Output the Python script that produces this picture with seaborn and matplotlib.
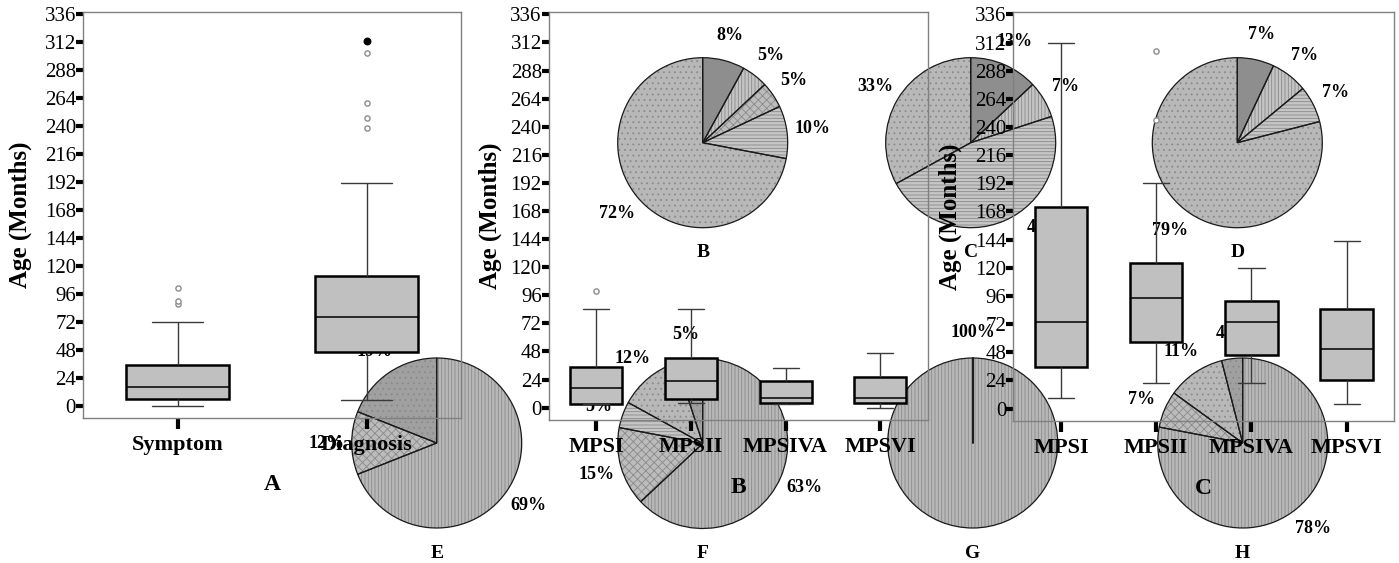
import numpy as np
import pandas as pd
import matplotlib
matplotlib.use("Agg")
import matplotlib.pyplot as plt
import seaborn as sns

# ---------------- data ----------------
# Panel A: age at symptom onset vs. age at diagnosis (five-number summaries)
a_groups = ["Symptom", "Diagnosis"]
a_min = [0, 5]
a_q1 = [6, 46]
a_med = [16, 76]
a_q3 = [35, 111]
a_max = [72, 191]
a_out_group = ["Symptom", "Symptom", "Symptom", "Diagnosis", "Diagnosis", "Diagnosis", "Diagnosis"]
a_out_val = [87, 90, 101, 238, 247, 260, 303]
a_ext_group = ["Diagnosis"]
a_ext_val = [313]

# Panel B: age at symptom onset by MPS type
mps_types = ["MPSI", "MPSII", "MPSIVA", "MPSVI"]
b_min = [3, 4, 3, 0]
b_q1 = [3, 7, 4, 4]
b_med = [17, 23, 8, 8]
b_q3 = [35, 42, 23, 26]
b_max = [84, 84, 34, 47]
b_out_group = ["MPSI"]
b_out_val = [100]

# Panel C: age at diagnosis by MPS type
c_min = [9, 22, 22, 4]
c_q1 = [35, 57, 46, 24]
c_med = [74, 94, 74, 51]
c_q3 = [172, 124, 92, 85]
c_max = [312, 192, 120, 143]
c_out_group = ["MPSII", "MPSII"]
c_out_val = [246, 305]

y_ticks = list(range(0, 337, 24))
panel_letters = ["A", "B", "C"]

# Pie charts (percent)
pie_b = [8, 5, 5, 10, 72]
pie_c = [13, 7, 47, 33]
pie_d = [7, 7, 7, 79]
pie_e = [19, 12, 69]
pie_f = [5, 12, 5, 15, 63]
pie_g = [100]
pie_h = [4, 11, 7, 78]
pie_letters = ["B", "C", "D", "E", "F", "G", "H"]

# ---------------- style ----------------
sns.set_style("white")
plt.rcParams["font.family"] = ["Liberation Serif", "DejaVu Serif"]
plt.rcParams["hatch.linewidth"] = 0.6
for key in ["text.color", "axes.labelcolor", "xtick.color", "ytick.color"]:
    plt.rcParams[key] = "black"

W, H = 1399, 563
fig = plt.figure(figsize=(W / 100, H / 100), dpi=100)
fig.patch.set_facecolor("white")


def px_rect(l, t, r, b):
    return [l / W, 1 - b / H, (r - l) / W, (b - t) / H]


# ---------------- pies (bottom layer) ----------------
bg = fig.add_axes([0, 0, 1, 1], zorder=0)
R = 85
HATCH_GRAY = "#8a8a8a"
DARK = ("#8e8e8e", "")
VERT = ("#c4c4c4", "|||||")
CROSS = ("#bcbcbc", "xxxx")
HORIZ = ("#c6c6c6", "-----")
DOT = ("#b8b8b8", "...")
DARKDOT = ("#a0a0a0", "...")
LINES = ("#b8b8b8", "|||||")

pie_specs = [
    (pie_b, (702.7, 142.7), [DARK, VERT, CROSS, HORIZ, DOT], True, 90),
    (pie_c, (970.7, 142.7), [DARK, VERT, HORIZ, DOT], True, 90),
    (pie_d, (1237.3, 142.7), [DARK, VERT, HORIZ, DOT], True, 90),
    (pie_e, (436.7, 443.0), [DARKDOT, CROSS, LINES], False, 90),
    (pie_f, (702.7, 443.5), [DARKDOT, DOT, HORIZ, CROSS, LINES], False, 90),
    (pie_g, (972.7, 443.0), [LINES], False, -90),
    (pie_h, (1242.7, 443.0), [DARKDOT, DOT, CROSS, LINES], False, 90),
]

# label positions that the original software nudged away from the default spot
label_nudges = {("C", 2): (1045, 228)}

for (vals, (cx, cy), styles, clockwise, start), letter in zip(pie_specs, pie_letters):
    center = (cx, H - cy)
    wedges, _ = bg.pie(vals, center=center, radius=R, startangle=start,
                       counterclock=not clockwise,
                       colors=[s[0] for s in styles],
                       wedgeprops=dict(linewidth=0, edgecolor=HATCH_GRAY),
                       frame=True)
    for w, s in zip(wedges, styles):
        w.set_hatch(s[1])
    _, _, pct_texts = bg.pie(vals, center=center, radius=R, startangle=start,
                             counterclock=not clockwise, colors=["none"] * len(vals),
                             wedgeprops=dict(linewidth=0.9, edgecolor="#1a1a1a", fill=False),
                             autopct=lambda p: f"{p:.0f}%", pctdistance=1.3,
                             textprops=dict(fontsize=13, fontweight="bold", color="black"),
                             frame=True)
    for i, t in enumerate(pct_texts):
        if (letter, i) in label_nudges:
            nx, ny = label_nudges[(letter, i)]
            t.set_position((nx, H - ny))
    if len(vals) == 1:
        bg.plot([cx, cx], [H - cy, H - cy + R], color="#1a1a1a", lw=1.4)
    bg.text(cx, H - cy - 110, letter, ha="center", va="center",
            fontsize=14, fontweight="bold", color="black")

bg.set_xlim(0, W)
bg.set_ylim(0, H)
bg.axis("off")


# ---------------- box plots (top layer) ----------------
def five_point_frame(groups, mins, q1s, meds, q3s, maxs):
    rows = []
    for g, lo, q1, md, q3, hi in zip(groups, mins, q1s, meds, q3s, maxs):
        for v in (lo, q1, md, q3, hi):
            rows.append((g, v))
    return pd.DataFrame(rows, columns=["group", "age"])


panels = [
    (px_rect(83, 12, 461, 418), a_groups, (a_min, a_q1, a_med, a_q3, a_max),
     a_out_group, a_out_val, a_ext_group, a_ext_val, -0.135),
    (px_rect(548.7, 12, 927.7, 420), mps_types, (b_min, b_q1, b_med, b_q3, b_max),
     b_out_group, b_out_val, [], [], -0.124),
    (px_rect(1013.3, 12, 1394.3, 421), mps_types, (c_min, c_q1, c_med, c_q3, c_max),
     c_out_group, c_out_val, [], [], -0.135),
]

for (rect, groups, stats, og, ov, eg, ev, ylab_x), letter in zip(panels, panel_letters):
    ax = fig.add_axes(rect, zorder=1)
    ax.set_facecolor("none")
    df = five_point_frame(groups, *stats)
    sns.boxplot(data=df, x="group", y="age", order=groups, ax=ax,
                whis=(0, 100), width=0.55, color="#c0c0c0", saturation=1,
                linecolor="black", linewidth=1.0, showfliers=False,
                boxprops=dict(linewidth=1.8, edgecolor="black"),
                medianprops=dict(linewidth=1.1, color="black"),
                whiskerprops=dict(linewidth=1.0, color="#3a3a3a"),
                capprops=dict(linewidth=1.0, color="#3a3a3a"))
    if og:
        xs = [groups.index(g) for g in og]
        ax.scatter(xs, ov, s=14, facecolors="white", edgecolors="#8c8c8c",
                   linewidths=1.0, zorder=4)
    if eg:
        xs = [groups.index(g) for g in eg]
        ax.scatter(xs, ev, s=22, color="black", zorder=4)
    ax.set_xlim(-0.5, len(groups) - 0.5)
    ax.set_ylim(-10.6, 338)
    ax.set_yticks(y_ticks)
    ax.set_yticklabels([str(t) for t in y_ticks])
    ax.tick_params(axis="y", direction="out", length=5, width=3, color="black",
                   labelcolor="black", labelsize=15, pad=0, left=True)
    ax.tick_params(axis="x", direction="out", length=8, width=3, color="black",
                   labelcolor="black", labelsize=16, pad=4, bottom=True)
    for lab in ax.get_xticklabels():
        lab.set_fontweight("bold")
    for s in ax.spines.values():
        s.set_visible(True)
        s.set_color("#808080")
        s.set_linewidth(1.0)
    ax.set_ylabel("Age (Months)", fontsize=18, fontweight="bold", color="black")
    ax.yaxis.set_label_coords(ylab_x, 0.5)
    ax.set_xlabel(letter, fontsize=17, fontweight="bold", color="black")
    ax.xaxis.set_label_coords(0.5, -0.139)
    ax.xaxis.label.set_va("top")

fig.savefig("out.png", dpi=100)
